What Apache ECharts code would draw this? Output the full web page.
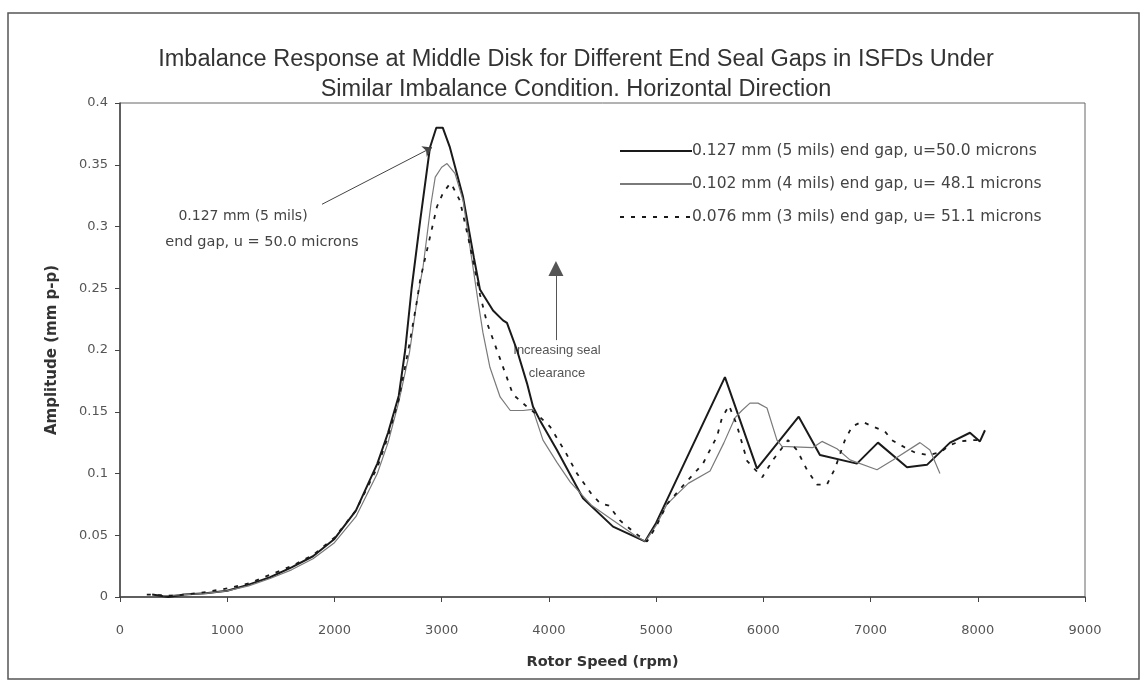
<!DOCTYPE html>
<html>
<head>
<meta charset="utf-8">
<script src="https://cdn.jsdelivr.net/npm/echarts@6/dist/echarts.min.js"></script>
<style>html,body{margin:0;padding:0;background:#fff;}#c{width:1142px;height:683px;}</style>
</head>
<body>
<div id="c"></div>
<script>
// ---- data ----
var xTicks = [0,1000,2000,3000,4000,5000,6000,7000,8000,9000];
var yTicks = [0,0.05,0.1,0.15,0.2,0.25,0.3,0.35,0.4];

var name5 = '0.127 mm (5 mils) end gap, u=50.0 microns';
var name4 = '0.102 mm (4 mils) end gap, u= 48.1 microns';
var name3 = '0.076 mm (3 mils) end gap, u= 51.1 microns';

var rpm5 = [300,450,600,800,1000,1200,1400,1600,1800,2000,2200,2400,2500,2600,2660,2720,2800,2891,2950,3010,3077,3199,3300,3357,3479,3572,3609,3702,3796,3852,3917,4075,4318,4598,4896,5000,5642,5941,6330,6528,6873,7069,7340,7526,7741,7927,8020,8067];
var amp5 = [0.002,0,0.002,0.003,0.005,0.01,0.016,0.024,0.033,0.047,0.07,0.108,0.133,0.163,0.2,0.25,0.305,0.364,0.38,0.38,0.364,0.324,0.275,0.249,0.232,0.224,0.222,0.2,0.173,0.154,0.143,0.119,0.08,0.057,0.045,0.06,0.178,0.104,0.146,0.115,0.108,0.125,0.105,0.107,0.125,0.133,0.126,0.135];

var rpm4 = [400,600,800,1000,1200,1400,1600,1800,2000,2200,2400,2500,2600,2700,2770,2826,2900,2940,3000,3050,3124,3200,3270,3340,3385,3450,3545,3640,3760,3850,3945,4075,4200,4400,4600,4800,4900,5000,5100,5300,5503,5633,5735,5800,5875,5950,6034,6127,6174,6463,6547,6687,6808,7060,7209,7461,7554,7647];
var amp4 = [0.001,0.002,0.003,0.005,0.009,0.015,0.022,0.031,0.044,0.065,0.1,0.125,0.158,0.198,0.24,0.267,0.318,0.34,0.348,0.351,0.343,0.321,0.28,0.239,0.214,0.186,0.162,0.151,0.151,0.152,0.127,0.109,0.093,0.074,0.062,0.05,0.045,0.058,0.075,0.092,0.102,0.125,0.145,0.151,0.157,0.157,0.153,0.127,0.122,0.121,0.126,0.12,0.111,0.103,0.111,0.125,0.119,0.1];

var rpm3 = [250,500,800,1000,1200,1400,1600,1800,2000,2200,2400,2500,2600,2700,2770,2800,2890,2956,3012,3080,3105,3170,3250,3357,3423,3544,3665,3796,3900,4010,4150,4262,4400,4477,4560,4663,4800,4915,5000,5100,5250,5437,5568,5614,5680,5750,5850,5990,6090,6230,6314,6407,6500,6593,6668,6761,6827,6920,7023,7134,7200,7321,7414,7535,7647,7741,7834,7946,8020];
var amp3 = [0.002,0.001,0.004,0.007,0.011,0.018,0.025,0.034,0.048,0.07,0.105,0.13,0.16,0.205,0.24,0.257,0.291,0.316,0.327,0.335,0.332,0.321,0.29,0.245,0.222,0.193,0.164,0.154,0.147,0.138,0.118,0.1,0.083,0.076,0.074,0.062,0.052,0.045,0.057,0.075,0.09,0.108,0.13,0.145,0.155,0.14,0.11,0.097,0.111,0.127,0.119,0.103,0.091,0.091,0.104,0.127,0.138,0.142,0.138,0.134,0.127,0.121,0.117,0.115,0.117,0.123,0.126,0.127,0.127];

// annotation anchor points (data coordinates)
var noteArrowFrom = [1884, 0.318], noteArrowTo = [2910, 0.364];
var upArrowFrom = [4066, 0.208], upArrowTo = [4066, 0.266];

function zip(a, b) { return a.map(function (v, i) { return [v, b[i]]; }); }

var FONT = 'DejaVu Sans';
var chart = echarts.init(document.getElementById('c'), null, {renderer: 'canvas'});
chart.setOption({
  backgroundColor: '#fff',
  animation: false,
  title: {
    text: 'Imbalance Response at Middle Disk for Different End Seal Gaps in ISFDs Under\nSimilar Imbalance Condition. Horizontal Direction',
    left: 571, top: 40, textAlign: 'center',
    textStyle: {fontFamily: 'Liberation Sans, Arial', fontSize: 23.5, fontWeight: 'normal', color: '#333', lineHeight: 30}
  },
  legend: {
    orient: 'vertical', left: 614, top: 138, itemWidth: 72, itemHeight: 12, itemGap: 17,
    itemStyle: {opacity: 0},
    textStyle: {fontFamily: FONT, fontSize: 15.5, color: '#444', padding: [0, 0, 0, -5]},
    data: [name5, name4, name3]
  },
  grid: {left: 120, right: 57, top: 103, bottom: 86, show: true, borderColor: '#666', borderWidth: 1},
  xAxis: {
    type: 'value', min: 0, max: 9000, interval: 1000,
    name: 'Rotor Speed (rpm)', nameLocation: 'middle', nameGap: 58,
    nameTextStyle: {fontFamily: FONT, fontWeight: 'bold', fontSize: 14.5, color: '#333'},
    axisLine: {show: true, lineStyle: {color: '#444', width: 1.5}},
    axisTick: {show: true, length: 5, lineStyle: {color: '#444'}},
    axisLabel: {fontFamily: FONT, fontSize: 13, color: '#555', margin: 27, formatter: function (v) { return String(v); }},
    splitLine: {show: false}
  },
  yAxis: {
    type: 'value', min: 0, max: 0.4, interval: 0.05,
    name: 'Amplitude (mm p-p)', nameLocation: 'middle', nameGap: 60, nameRotate: 90,
    nameTextStyle: {fontFamily: FONT, fontWeight: 'bold', fontSize: 15, color: '#333'},
    axisLine: {show: true, lineStyle: {color: '#444', width: 1.5}},
    axisTick: {show: true, length: 5, lineStyle: {color: '#444'}},
    axisLabel: {fontFamily: FONT, fontSize: 13, color: '#555', margin: 12},
    splitLine: {show: false}
  },
  series: [
    {name: name5, type: 'line', data: zip(rpm5, amp5), showSymbol: false, symbol: 'none',
     lineStyle: {color: '#1a1a1a', width: 2}, itemStyle: {color: '#1a1a1a'},
     markLine: {silent: true, symbol: ['none', 'arrow'], symbolSize: 9, label: {show: false},
       lineStyle: {color: '#444', width: 1, type: 'solid'},
       data: [[{coord: noteArrowFrom}, {coord: noteArrowTo}]]}},
    {name: name4, type: 'line', data: zip(rpm4, amp4), showSymbol: false, symbol: 'none',
     lineStyle: {color: '#7a7a7a', width: 1.2}, itemStyle: {color: '#7a7a7a'},
     markLine: {silent: true, symbol: ['none', 'triangle'], symbolSize: 15, label: {show: false},
       lineStyle: {color: '#555', width: 1, type: 'solid'}, itemStyle: {color: '#555'},
       data: [[{coord: upArrowFrom}, {coord: upArrowTo}]]}},
    {name: name3, type: 'line', data: zip(rpm3, amp3), showSymbol: false, symbol: 'none',
     lineStyle: {color: '#1a1a1a', width: 1.8, type: [4, 7]}, itemStyle: {color: '#1a1a1a'}}
  ],
  graphic: [
    {type: 'rect', shape: {x: 8, y: 13, width: 1131, height: 666}, style: {fill: 'none', stroke: '#555', lineWidth: 1.5}, silent: true},
    {type: 'text', position: [243, 216], style: {text: '0.127 mm (5 mils)', fontFamily: FONT, fontSize: 14, fill: '#444', textAlign: 'center', textVerticalAlign: 'middle'}},
    {type: 'text', position: [262, 242], style: {text: 'end gap, u = 50.0 microns', fontFamily: FONT, fontSize: 14.5, fill: '#444', textAlign: 'center', textVerticalAlign: 'middle'}},
    {type: 'text', position: [557, 350], style: {text: 'Increasing seal', fontFamily: 'Liberation Sans', fontSize: 13, fill: '#555', textAlign: 'center', textVerticalAlign: 'middle'}},
    {type: 'text', position: [557, 373], style: {text: 'clearance', fontFamily: 'Liberation Sans', fontSize: 13, fill: '#555', textAlign: 'center', textVerticalAlign: 'middle'}}
  ]
});
</script>
</body>
</html>
